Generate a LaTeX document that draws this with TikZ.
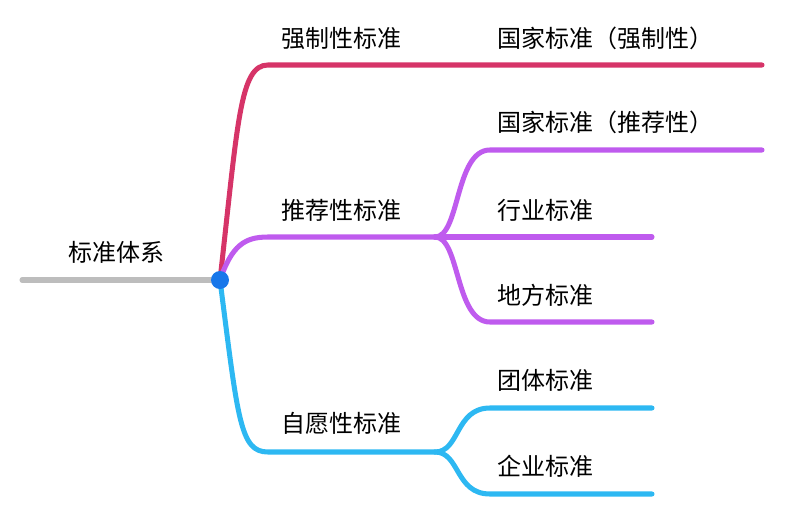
\documentclass[tikz,border=0pt]{standalone}
\usepackage{fontspec}
\setmainfont{Noto Sans CJK SC}
\begin{document}
\begin{tikzpicture}[x=0.03cm,y=-0.03cm,
  br/.style={line width=4.3pt,line cap=round},
  lbl/.style={font=\fontsize{20.5}{24}\selectfont,inner sep=0pt,anchor=west}]
\useasboundingbox (0,0) rectangle (800,522);
\definecolor{cred}{HTML}{D63468}
\definecolor{cpur}{HTML}{BF5BEE}
\definecolor{cblu}{HTML}{2DB8F2}
\definecolor{cdot}{HTML}{1877EA}
\definecolor{cgry}{HTML}{BDBDBD}
\coordinate (r0) at (22,280);
\coordinate (c) at (220,280);
\coordinate (a1) at (268,65); \coordinate (a2) at (762,65);
\coordinate (b1) at (268,237); \coordinate (b2) at (435,237);
\coordinate (b3) at (490,150); \coordinate (b4) at (762,150);
\coordinate (b5) at (652,237);
\coordinate (b6) at (490,322); \coordinate (b7) at (652,322);
\coordinate (d1) at (268,452); \coordinate (d2) at (435,452);
\coordinate (d3) at (490,408); \coordinate (d4) at (652,408);
\coordinate (d5) at (490,494); \coordinate (d6) at (652,494);
\draw[br,cgry] (r0) -- (c);
\draw[br,cred] (c) .. controls (238,120) and (240,65) .. (a1) -- (a2);
\draw[br,cpur] (c) .. controls (232,245) and (245,237) .. (b1) -- (b2);
\draw[br,cpur] (b2) .. controls (460,237) and (455,150) .. (b3) -- (b4);
\draw[br,cpur] (b2) -- (b5);
\draw[br,cpur] (b2) .. controls (460,237) and (455,322) .. (b6) -- (b7);
\draw[br,cblu] (c) .. controls (238,420) and (240,452) .. (d1) -- (d2);
\draw[br,cblu] (d2) .. controls (460,452) and (455,408) .. (d3) -- (d4);
\draw[br,cblu] (d2) .. controls (460,452) and (455,494) .. (d5) -- (d6);
\fill[cdot] (c) circle (9);
\node[lbl] (t0) at (68,252) {标准体系};
\node[lbl] (t1) at (281,38) {强制性标准};
\node[lbl] (t2) at (281,210) {推荐性标准};
\node[lbl] (t3) at (281,423) {自愿性标准};
\node[lbl] (t4) at (497,38) {国家标准（强制性）};
\node[lbl] (t5) at (497,122) {国家标准（推荐性）};
\node[lbl] (t6) at (497,210) {行业标准};
\node[lbl] (t7) at (497,295) {地方标准};
\node[lbl] (t8) at (497,380) {团体标准};
\node[lbl] (t9) at (497,466) {企业标准};
\end{tikzpicture}
\end{document}
